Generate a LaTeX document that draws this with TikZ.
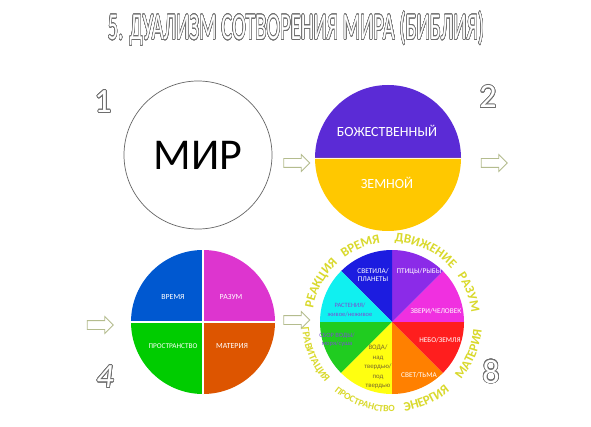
\documentclass[tikz,border=0pt]{standalone}
\usepackage{fontspec}
\setmainfont{Carlito}
\usepackage{contour}
\usetikzlibrary{shapes.arrows,decorations.text}
\definecolor{purp}{HTML}{5B2BD6}
\definecolor{gold}{HTML}{FFC800}
\definecolor{qblue}{HTML}{0058D0}
\definecolor{qmag}{HTML}{DD35CF}
\definecolor{qgreen}{HTML}{00CC00}
\definecolor{qorange}{HTML}{DD5500}
\definecolor{wblue}{HTML}{1C1CE0}
\definecolor{wviolet}{HTML}{8B2BE8}
\definecolor{wmag}{HTML}{F030E0}
\definecolor{wred}{HTML}{FF1E1E}
\definecolor{worange}{HTML}{FF8000}
\definecolor{wyellow}{HTML}{FFFF10}
\definecolor{wgreen}{HTML}{20CC20}
\definecolor{wcyan}{HTML}{10F0F0}
\definecolor{ringcol}{HTML}{D9D92C}
\definecolor{arrowcol}{HTML}{B4BC8E}
\definecolor{lilac}{HTML}{7A50D0}
\definecolor{darkolive}{HTML}{7A6A2A}
\definecolor{outl}{HTML}{6E6E6E}
\contourlength{0.7pt}
\contournumber{24}
\newfontface\ringfont{Carlito Bold}
\newcommand{\outlined}[1]{\contour{outl}{\textcolor{white}{#1}}}
\begin{document}
\begin{tikzpicture}[x=1pt,y=1pt,
  lab/.style={font=\fontsize{#1}{#1}\selectfont, text=white, align=center, inner sep=0pt},
  wlab/.style={font=\fontsize{7.3}{8.8}\selectfont, text=white, align=center, inner sep=0pt},
  disk/.style={circle, minimum size=#1, inner sep=0pt, outer sep=0pt},
  blockarrow/.style={single arrow, draw=arrowcol, fill=white, line width=0.8pt,
    minimum height=26pt, inner sep=4pt, single arrow head extend=4pt},
  ring/.style={decorate, decoration={text along path, text align=center,
    text color=ringcol, text={#1}}}]
\useasboundingbox[fill=white] (0,0) rectangle (591,426);

% title
\node (title) at (296,397) {\scalebox{0.54}[1]{\fontsize{38}{38}\selectfont\outlined{5. ДУАЛИЗМ СОТВОРЕНИЯ МИРА (БИБЛИЯ)}}};

% numbers
\node (n1) at (103,324) {\fontsize{34}{34}\selectfont\outlined{1}};
\node (n2) at (488,329) {\fontsize{34}{34}\selectfont\outlined{2}};
\node (n4) at (105,49) {\fontsize{34}{34}\selectfont\itshape\outlined{4}};
\node (n8) at (491,54) {\fontsize{34}{34}\selectfont\outlined{8}};

% circle 1
\node[disk=148pt, draw=black!60, line width=0.7pt, font=\fontsize{44}{44}\selectfont] (c1) at (198,271) {МИР};

% circle 2
\node[disk=146pt] (c2) at (388,268) {};
\fill[purp] (c2.east) arc[start angle=0, end angle=180, radius=73pt] -- cycle;
\fill[gold] (c2.west) arc[start angle=180, end angle=360, radius=73pt] -- cycle;
\draw[white!85!gold, line width=0.6pt] (c2.west) -- (c2.east);
\node[lab=14] (bozh) at (387,295) {БОЖЕСТВЕННЫЙ};
\node[lab=14] (zemn) at (387,243) {ЗЕМНОЙ};

% circle 4
\node[disk=144pt] (c4) at (203,104) {};
\fill[qblue] (c4.center) -- (c4.west) arc[start angle=180, end angle=90, radius=72pt] -- cycle;
\fill[qmag] (c4.center) -- (c4.north) arc[start angle=90, end angle=0, radius=72pt] -- cycle;
\fill[qorange] (c4.center) -- (c4.east) arc[start angle=0, end angle=-90, radius=72pt] -- cycle;
\fill[qgreen] (c4.center) -- (c4.south) arc[start angle=-90, end angle=-180, radius=72pt] -- cycle;
\draw[white, line width=1.4pt] (c4.north) -- (c4.south) (c4.west) -- (c4.east);
\node[lab=7.8] (vremya) at (173,129) {ВРЕМЯ};
\node[lab=7.3] (prostr) at (173,80) {ПРОСТРАНСТВО};
\node[lab=7.8] (razum) at (231,129) {РАЗУМ};
\node[lab=7.8] (materiya) at (232,80) {МАТЕРИЯ};

% circle 8
\node[disk=144pt] (c8) at (392,104) {};
\foreach \a/\c in {0/wmag,45/wviolet,90/wblue,135/wcyan,180/wgreen,225/wyellow,270/worange,315/wred}{
  \fill[\c] (c8.center) -- ++(\a:72pt) arc[start angle=\a, end angle=\a+45, radius=72pt] -- cycle;
}
\node[wlab] (svetila) at (373,151) {СВЕТИЛА/\\ПЛАНЕТЫ};
\node[wlab] (ptitsy) at (419,154) {ПТИЦЫ/РЫБЫ};
\node[wlab] (zveri) at (436,115) {ЗВЕРИ/ЧЕЛОВЕК};
\node[wlab] (nebo) at (440,86) {НЕБО/ЗЕМЛЯ};
\node[wlab] (svet) at (419,51) {СВЕТ/ТЬМА};
\node[wlab, text=darkolive, font=\fontsize{6.8}{9.5}\selectfont] (voda) at (378,59) {ВОДА/\\над\\твердью/\\под\\твердью};
\node[wlab, text=lilac, font=\fontsize{6.5}{8.5}\selectfont] (sbor) at (337,86) {СБОР ВОДЫ/\\моря/суша};
\node[wlab, text=lilac, font=\fontsize{6.5}{8.5}\selectfont] (rast) at (350,116) {РАСТЕНИЯ/\\живое/неживое};

% ring words, upper half (clockwise), lower half (counter-clockwise)
\path[ring={|\ringfont\fontsize{13}{13}\selectfont|РЕАКЦИЯ}] (c8.center) ++(191.5:80pt) arc[start angle=191.5, end angle=111.5, radius=80pt];
\path[ring={|\ringfont\fontsize{13}{13}\selectfont|ВРЕМЯ}] (c8.center) ++(152.5:80pt) arc[start angle=152.5, end angle=72.5, radius=80pt];
\path[ring={|\ringfont\fontsize{13}{13}\selectfont|ДВИЖЕНИЕ}] (c8.center) ++(105:80pt) arc[start angle=105, end angle=25, radius=80pt];
\path[ring={|\ringfont\fontsize{13}{13}\selectfont|РАЗУМ}] (c8.center) ++(61:80pt) arc[start angle=61, end angle=-19, radius=80pt];
\path[ring={|\ringfont\fontsize{13}{13}\selectfont|МАТЕРИЯ}] (c8.center) ++(-62.5:90pt) arc[start angle=-62.5, end angle=17.5, radius=90pt];
\path[ring={|\ringfont\fontsize{13}{13}\selectfont|ЭНЕРГИЯ}] (c8.center) ++(-106:90pt) arc[start angle=-106, end angle=-26, radius=90pt];
\path[ring={|\ringfont\fontsize{9.5}{9.5}\selectfont|ПРОСТРАНСТВО}] (c8.center) ++(-149:90pt) arc[start angle=-149, end angle=-69, radius=90pt];
\path[ring={|\ringfont\fontsize{10.5}{10.5}\selectfont|ГРАВИТАЦИЯ}] (c8.center) ++(-197:90pt) arc[start angle=-197, end angle=-117, radius=90pt];

% arrows
\node[blockarrow] (a1) at (294.5,263) {};
\node[blockarrow] (a2) at (492,263) {};
\node[blockarrow] (a3) at (98,101) {};
\node[blockarrow] (a4) at (294.5,106) {};
\end{tikzpicture}
\end{document}
